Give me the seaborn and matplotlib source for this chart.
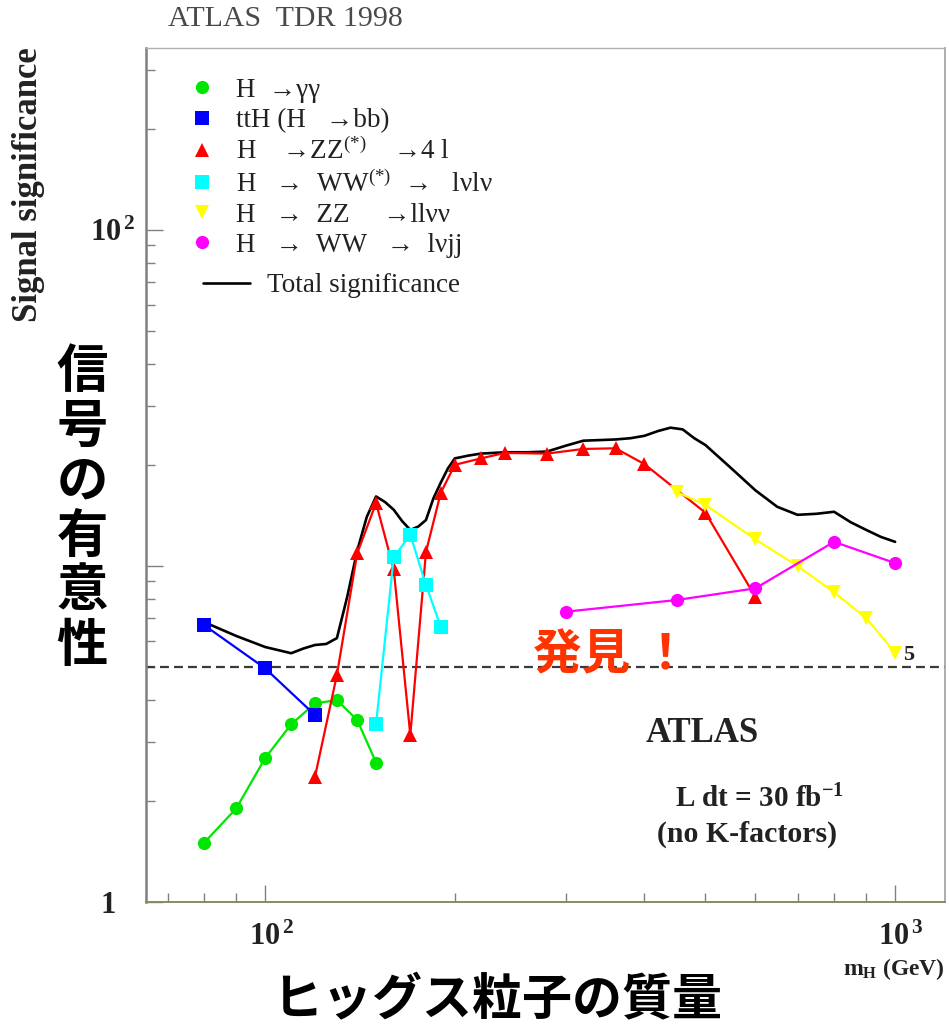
import matplotlib
matplotlib.use("Agg")
import matplotlib.pyplot as plt
from matplotlib.lines import Line2D
from matplotlib.ticker import FixedLocator, FixedFormatter, NullFormatter
from matplotlib.transforms import ScaledTranslation
import pandas as pd
import seaborn as sns

# ---------------- data: signal significance vs Higgs mass (GeV) ----------------
mass_gg = [80, 90, 100, 110, 120, 130, 140, 150]
sig_gg = [1.50, 1.90, 2.68, 3.38, 3.90, 3.99, 3.48, 2.60]

mass_tth = [80, 100, 120]
sig_tth = [6.67, 4.96, 3.60]

mass_zz4l = [120, 130, 140, 150, 160, 170, 180, 190, 200, 220, 240, 280, 320, 360, 400, 500, 600]
sig_zz4l = [2.36, 4.74, 10.9, 15.4, 9.77, 3.14, 11.0, 16.5, 20.0, 20.9, 21.7, 21.6, 22.3, 22.4, 20.1, 14.4, 8.1]

mass_ww2l = [150, 160, 170, 180, 190]
sig_ww2l = [3.39, 10.6, 12.4, 8.78, 6.60]

mass_zz2l2v = [450, 500, 600, 700, 800, 900, 1000]
sig_zz2l2v = [16.6, 15.2, 12.0, 10.0, 8.35, 6.99, 5.52]

mass_wwlvjj = [300, 450, 600, 800, 1000]
sig_wwlvjj = [7.31, 7.92, 8.58, 11.8, 10.2]

mass_total = [80, 90, 100, 110, 115, 120, 125, 130, 135, 140, 145, 150, 155, 160, 165,
              170, 175, 180, 185, 190, 195, 200, 210, 220, 240, 260, 280, 300, 320, 340,
              360, 380, 400, 420, 440, 460, 480, 500, 550, 600, 650, 700, 750, 800, 850,
              900, 950, 1000]
sig_total = [6.81, 6.19, 5.74, 5.50, 5.68, 5.82, 5.86, 6.1, 8.1, 11.1, 14.0, 16.1, 15.5, 14.7, 13.6,
             12.8, 13.1, 13.7, 15.9, 17.7, 19.5, 20.9, 21.3, 21.6, 21.8, 21.8, 21.9, 22.8, 23.6, 23.7,
             23.8, 24.0, 24.4, 25.2, 25.8, 25.5, 24.0, 22.9, 19.5, 16.8, 15.0, 14.2, 14.3, 14.5, 13.5,
             12.8, 12.2, 11.8]

discovery_level = 5

legend_labels = [
    "H  \u2192\u03b3\u03b3",
    "ttH (H   \u2192bb)",
    "H    \u2192ZZ$^{(*)}$    \u21924 l",
    "H   \u2192  WW$^{(*)}$  \u2192   l\u03bdl\u03bd",
    "H   \u2192  ZZ     \u2192ll\u03bd\u03bd",
    "H   \u2192  WW   \u2192  l\u03bdjj",
]
total_label = "Total significance"

x_major = [100, 1000]
x_major_labels = [r"$\mathbf{10^{\,2}}$", r"$\mathbf{10^{\,3}}$"]
x_minor = [70, 80, 90, 200, 300, 400, 500, 600, 700, 800, 900]
y_major = [1, 10, 100]
y_major_labels = ["1", "", r"$\mathbf{10^{\,2}}$"]
y_minor = [2, 3, 4, 5, 6, 7, 8, 9, 20, 30, 40, 50, 60, 70, 80, 90, 200, 300]

# ---------------- style ----------------
sns.set_theme(style="white")
plt.rcParams["font.family"] = ["Liberation Serif", "DejaVu Serif"]
plt.rcParams["mathtext.fontset"] = "custom"
plt.rcParams["mathtext.rm"] = "Liberation Serif"
plt.rcParams["mathtext.it"] = "Liberation Serif:italic"
plt.rcParams["mathtext.bf"] = "Liberation Serif:bold"

W, H = 949, 1025
fig = plt.figure(figsize=(W / 100, H / 100), dpi=100)
fig.patch.set_facecolor("white")


def fx(px):
    return px / W


def fy(py):
    return 1 - py / H


ax = fig.add_axes([fx(146), fy(902), (945 - 146) / W, (902 - 48) / H])
ax.set_xscale("log")
ax.set_yscale("log")

series = [
    (mass_gg, sig_gg, "#00e600", "o", 9.5),
    (mass_tth, sig_tth, "#0000ff", "s", 9.5),
    (mass_zz4l, sig_zz4l, "#ff0000", "^", 10),
    (mass_ww2l, sig_ww2l, "#00ffff", "s", 9.5),
    (mass_zz2l2v, sig_zz2l2v, "#ffff00", "v", 10),
    (mass_wwlvjj, sig_wwlvjj, "#ff00ff", "o", 9.5),
]

# total significance (smooth black curve, no markers)
sns.lineplot(data=pd.DataFrame({"m": mass_total, "s": sig_total}), x="m", y="s", ax=ax,
             color="black", linewidth=1.9, sort=False, estimator=None, legend=False, zorder=2)

for mass, sig, color, marker, ms in series:
    df = pd.DataFrame({"m": mass, "s": sig})
    sns.lineplot(data=df, x="m", y="s", ax=ax, color=color, marker=marker, markersize=ms,
                 markeredgewidth=0, linewidth=1.6, sort=False, estimator=None,
                 legend=False, zorder=3)

# 5 sigma discovery line
ax.axhline(discovery_level, color="#3a3a3a", linewidth=1.6, linestyle=(0, (4, 2.3)), zorder=1)

ax.set_xlim(64.7, 1200)
ax.set_ylim(1, 348)
ax.set_xlabel("")
ax.set_ylabel("")

# axes frame & ticks
for side, col, lw in [("left", "#808080", 1.8), ("bottom", "#8a8a62", 1.4),
                      ("top", "#b0b0b0", 1.0), ("right", "#a0a0a0", 1.2)]:
    ax.spines[side].set_visible(True)
    ax.spines[side].set_color(col)
    ax.spines[side].set_linewidth(lw)

ax.xaxis.set_major_locator(FixedLocator(x_major))
ax.xaxis.set_major_formatter(FixedFormatter(x_major_labels))
ax.xaxis.set_minor_locator(FixedLocator(x_minor))
ax.xaxis.set_minor_formatter(NullFormatter())
ax.yaxis.set_major_locator(FixedLocator(y_major))
ax.yaxis.set_major_formatter(FixedFormatter(y_major_labels))
ax.yaxis.set_minor_locator(FixedLocator(y_minor))
ax.yaxis.set_minor_formatter(NullFormatter())

ax.tick_params(which="both", direction="in", color="#808080", width=1.0,
               top=False, right=False, left=True, bottom=True)
ax.tick_params(which="major", length=12)
ax.tick_params(which="minor", length=6.5)
ax.tick_params(axis="x", which="major", pad=15, labelsize=22, labelcolor="#222222")
ax.tick_params(axis="y", which="major", pad=8, labelsize=22, labelcolor="#222222")
for lab in ax.get_xticklabels() + ax.get_yticklabels():
    lab.set_fontweight("bold")

# nudge tick labels: exponent labels sit with the mantissa on the tick, "1" further left
x_shift = ScaledTranslation(6 / 100, 0, fig.dpi_scale_trans)
for tk in ax.xaxis.get_major_ticks():
    tk.label1.set_transform(tk.label1.get_transform() + x_shift)
one_shift = ScaledTranslation(-19 / 100, 0, fig.dpi_scale_trans)
ytk = ax.yaxis.get_major_ticks()[0]
ytk.label1.set_transform(ytk.label1.get_transform() + one_shift)

# legend: markers for channels, line for total
handles = [Line2D([], [], color=c, marker=m, markersize=ms, markeredgewidth=0, linestyle="None")
           for _, _, c, m, ms in series]
leg1 = ax.legend(handles, legend_labels, loc="upper left", bbox_to_anchor=(0.053, 0.965),
                 frameon=False, fontsize=19.5, handlelength=1.0, handletextpad=0.75,
                 borderpad=0, borderaxespad=0, labelspacing=0.19, labelcolor="#222222")
ax.add_artist(leg1)
leg2 = ax.legend([Line2D([], [], color="black", linewidth=1.9)], [total_label],
                 loc="center left", bbox_to_anchor=(0.0713, (902 - 286) / 854),
                 frameon=False, fontsize=19.5, handlelength=1.75, handletextpad=0.6,
                 borderpad=0, borderaxespad=0, labelcolor="#222222")

# annotations inside the frame
fig.text(fx(702), fy(733), "ATLAS", ha="center", va="center", fontsize=25,
         fontweight="bold", color="#222222")
fig.text(fx(760), fy(799), r"L dt = 30 fb$^{\mathbf{-1}}$", ha="center", va="center",
         fontsize=21, fontweight="bold", color="#222222")
fig.text(fx(747), fy(834), "(no K-factors)", ha="center", va="center", fontsize=21.5,
         fontweight="bold", color="#222222")
fig.text(fx(903), fy(655), "5", ha="left", va="center", fontsize=16,
         fontweight="bold", color="#222222")
fig.text(fx(533), fy(655), "発見 ！", ha="left", va="center", fontsize=35,
         fontweight="bold", color="#ff3300", family=["Noto Sans CJK JP", "DejaVu Sans"])

# titles and axis captions
fig.text(fx(168), fy(19), "ATLAS  TDR 1998", ha="left", va="center", fontsize=21.5,
         color="#4a4a4a")
fig.text(fx(29), fy(185), "Signal significance", ha="center", va="center", rotation=90,
         fontsize=25, fontweight="bold", color="#222222")
fig.text(fx(945), fy(969), r"m$_{\mathbf{H}}$ (GeV)", ha="right", va="center", fontsize=17,
         fontweight="bold", color="#222222")

for i, ch in enumerate("信号の有意性"):
    fig.text(fx(82), fy(371 + 55 * i), ch, ha="center", va="center", fontsize=37,
             fontweight="bold", color="black", family=["Noto Sans CJK JP", "DejaVu Sans"])

fig.text(fx(497), fy(1001), "ヒッグス粒子の質量", ha="center", va="center", fontsize=36,
         fontweight="bold", color="black", family=["Noto Sans CJK JP", "DejaVu Sans"])

fig.savefig("out.png", dpi=100, facecolor="white")
